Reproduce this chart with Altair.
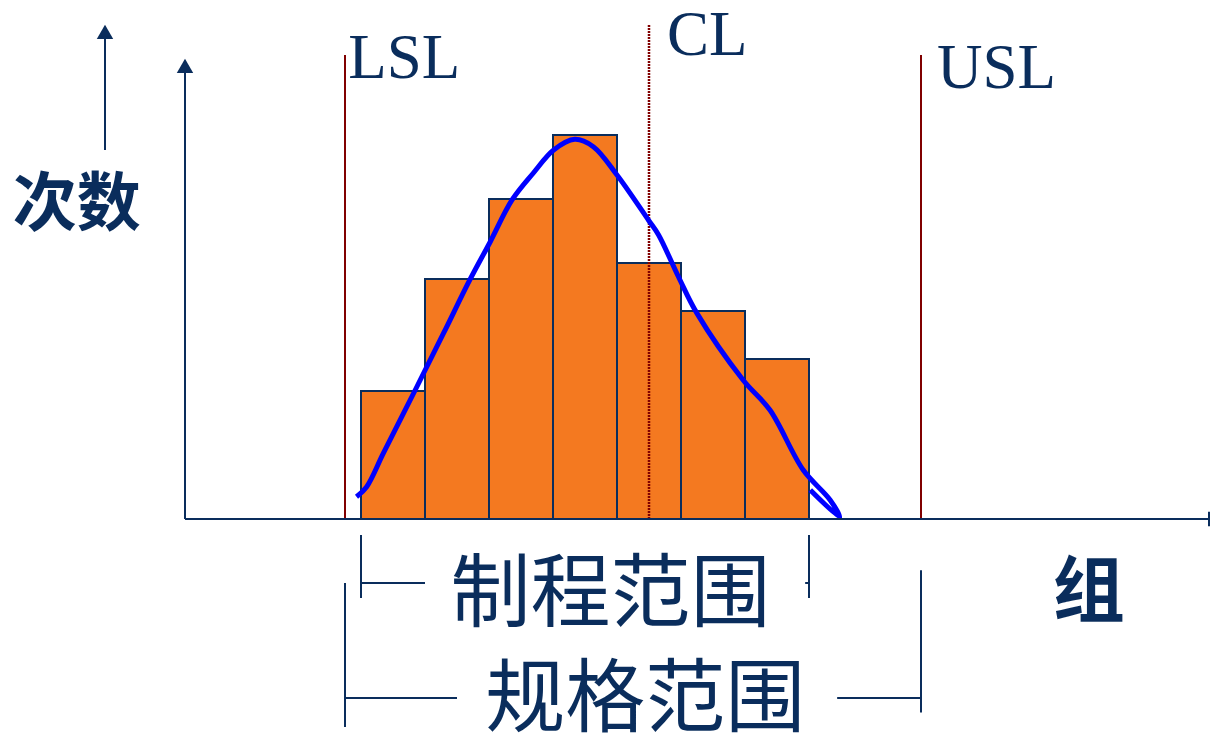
import altair as alt
import pandas as pd

# ---- data (x in bin units, y in counts) ----
bin_start = [0, 1, 2, 3, 4, 5, 6]
counts = [8, 15, 20, 24, 16, 13, 10]
LSL, CL, USL = -0.25, 4.5, 8.75

curve_x = [-0.07, 0.09, 0.35, 0.84, 1.29, 1.70, 2.02, 2.36, 2.69, 3.01, 3.34, 3.63,
           4.00, 4.49, 4.65, 4.96, 5.25, 5.97, 6.39, 6.91, 7.33, 7.48, 7.02]
curve_y = [1.39, 2.02, 4.11, 8.0, 11.61, 14.94, 17.33, 19.94, 21.61, 23.06, 23.73, 23.27,
           21.5, 18.69, 17.75, 15.14, 12.85, 8.69, 6.81, 3.06, 1.19, 0.12, 1.81]

NAVY = "#0a2d5c"
ORANGE = "#f47920"
RED = "#800000"
BLUE = "#0000ff"

XDOM = [-361 / 64, (1210 - 361) / 64]
YDOM = [-(747 - 519) / 16, 519 / 16]
xs = alt.Scale(domain=XDOM, nice=False, zero=False)
ys = alt.Scale(domain=YDOM, nice=False, zero=False)

bars = pd.DataFrame({"x": bin_start, "x2": [b + 1 for b in bin_start],
                     "y": counts, "y0": [0] * len(counts)})
curve = pd.DataFrame({"x": curve_x, "y": curve_y, "i": list(range(len(curve_x)))})

# axis / bracket segments
seg = pd.DataFrame([
    (-2.75, 0, 13.25, 0),
    (13.25, 0.45, 13.25, -0.45),
    (-2.75, 0, -2.75, 28.4),
    (-4, 23.06, -4, 30.4),
    (0, -1, 0, -4.94), (0, -4, 1, -4),
    (7, -1, 7, -4.94), (6.94, -4, 7, -4),
    (LSL, -4, LSL, -13), (LSL, -11.19, 1.5, -11.19),
    (7.44, -11.19, USL, -11.19), (USL, -3.2, USL, -12.1),
], columns=["x", "y", "x2", "y2"])

arrows = pd.DataFrame({"x": [-2.75, -4], "y": [28.32, 30.45]})

limits = pd.DataFrame({"x": [LSL, USL], "y": [0, 0], "y2": [29, 29]})
center = pd.DataFrame({"x": [CL], "y": [0], "y2": [30.9]})

serif_lbl = pd.DataFrame({"t": ["LSL", "CL", "USL"], "x": [-0.2, 4.78, 9.0],
                          "y": [27.56, 29.0, 26.94]})
bold_lbl = pd.DataFrame({"t": ["次数", "组"], "x": [-4.44, 11.37], "y": [19.55, -4.66],
                         "s": [64, 72]})
range_lbl = pd.DataFrame({"t": ["制程范围", "规格范围"], "x": [3.9, 4.44], "y": [-4.8, -11.38]})

X = lambda f="x": alt.X(f, type="quantitative", scale=xs, axis=None)
Y = lambda f="y": alt.Y(f, type="quantitative", scale=ys, axis=None)

l_bars = alt.Chart(bars).mark_rect(fill=ORANGE, stroke=NAVY, strokeWidth=2).encode(
    x=X(), x2="x2", y=Y(), y2="y0")
l_limits = alt.Chart(limits).mark_rule(color=RED, strokeWidth=2).encode(x=X(), y=Y(), y2="y2")
l_center = alt.Chart(center).mark_rule(color=RED, strokeWidth=2.5, strokeDash=[2, 1]).encode(
    x=X(), y=Y(), y2="y2")
l_curve = alt.Chart(curve).mark_line(color=BLUE, strokeWidth=5, interpolate="catmull-rom").encode(
    x=X(), y=Y(), order="i:Q")
l_seg = alt.Chart(seg).mark_rule(color=NAVY, strokeWidth=2).encode(x=X(), y=Y(), x2="x2", y2="y2")
l_arrow = alt.Chart(arrows).mark_point(shape="triangle-up", filled=True, fill=NAVY, size=270,
                                       opacity=1, strokeWidth=0).encode(x=X(), y=Y())
l_serif = alt.Chart(serif_lbl).mark_text(font="Liberation Serif", fontSize=63, color=NAVY,
                                         align="left", baseline="alphabetic").encode(
    x=X(), y=Y(), text="t:N")
l_bold = alt.Chart(bold_lbl).mark_text(font="Noto Sans CJK SC", fontWeight="bold", color=NAVY,
                                       align="center", baseline="middle").encode(
    x=X(), y=Y(), text="t:N", size=alt.Size("s:Q", scale=None, legend=None))
l_range = alt.Chart(range_lbl).mark_text(font="Noto Sans CJK SC", fontSize=80, color=NAVY,
                                         align="center", baseline="middle").encode(
    x=X(), y=Y(), text="t:N")

chart = alt.layer(l_bars, l_limits, l_center, l_curve, l_seg, l_arrow,
                  l_serif, l_bold, l_range).properties(
    width=1210, height=747, padding=0, autosize=alt.AutoSizeParams(type="none"),
    background="white"
).configure_view(stroke=None)

chart.save("out.html", embed_options={"renderer": "svg", "actions": False})
